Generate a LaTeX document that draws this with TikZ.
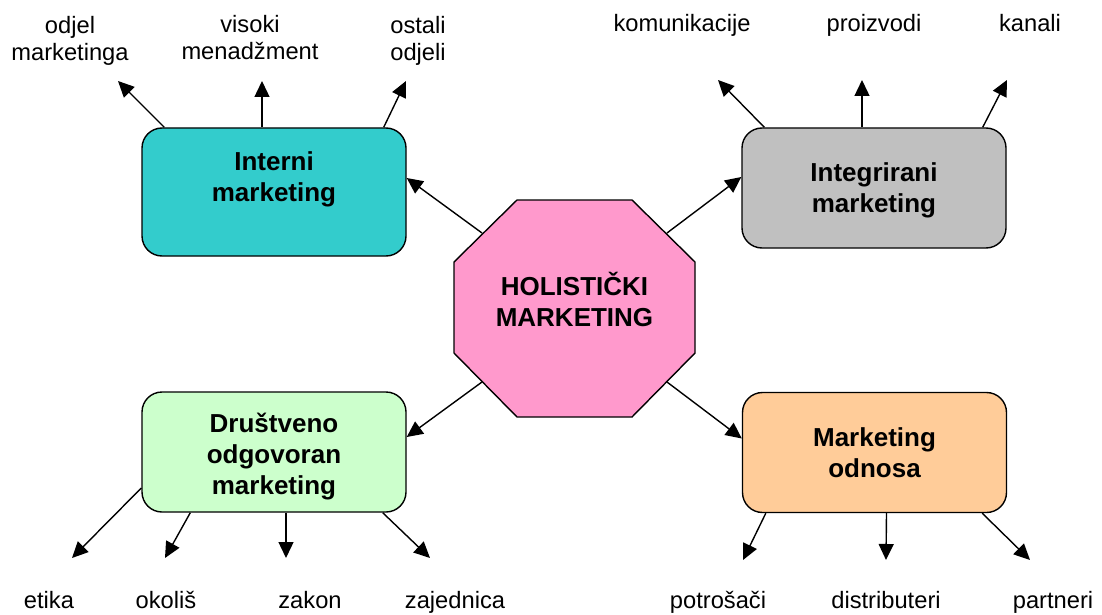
\documentclass[tikz,border=0pt]{standalone}
\usepackage{fontspec}
\setmainfont{Liberation Sans}
\usetikzlibrary{arrows.meta}
\definecolor{tirkiz}{HTML}{33CCCC}
\definecolor{siva}{HTML}{C0C0C0}
\definecolor{zelena}{HTML}{CCFFCC}
\definecolor{narancasta}{HTML}{FFCC99}
\definecolor{roza}{HTML}{FF99CC}
\tikzset{
    >={Triangle[length=16pt,width=15pt]},
    box/.style={draw, line width=1.4pt, rounded corners=20pt, minimum width=264pt,
        minimum height=120pt, align=center, inner sep=0pt,
        font=\fontsize{26}{31}\selectfont\bfseries},
    txt/.style={align=center, inner sep=0pt, font=\fontsize{23.7}{27}\selectfont},
    arr/.style={->, line width=1.4pt}
}

\begin{document}
\begin{tikzpicture}[x=1pt,y=-1pt]
    \useasboundingbox (0,0) rectangle (1102,615);
    % sredisnji osmerokut
        \draw[line width=1.4pt, fill=roza] (517,200) -- (632,200) -- (695,262) -- (695,353)
            -- (632,417) -- (517,417) -- (454,353) -- (454,262) -- cycle;
        \node[align=center, inner sep=0pt, font=\fontsize{26}{31}\selectfont\bfseries] (hol) at (574.5,299.5) {HOLISTIČKI\\MARKETING};
        \coordinate (h1) at (482,233);
        \coordinate (h2) at (667,233);
        \coordinate (h3) at (482,382);
        \coordinate (h4) at (667,382);
    % cetiri podrucja
        \node[box, fill=tirkiz, minimum height=128pt] (int) at (274,192) {Interni\\marketing\\ \mbox{}};
        \node[box, fill=siva] (integ) at (874,188) {\rule{0pt}{24.5pt}Integrirani\\marketing};
        \node[box, fill=zelena] (drus) at (274,452) {\rule{0pt}{27.5pt}Društveno\\odgovoran\\marketing};
        \node[box, fill=narancasta] (odn) at (874.5,452.5) {Marketing\\odnosa};
        \draw[arr] (h1) -- ([yshift=14pt]int.east);
        \draw[arr] (h2) -- ([yshift=11pt]integ.west);
        \draw[arr] (h3) -- ([yshift=15pt]drus.east);
        \draw[arr] (h4) -- ([yshift=14pt]odn.west);
    % natpisi
        \node[txt] (l1) at (70,40.4) {odjel\\marketinga};
        \node[txt] (l2) at (250,37.8) {visoki\\menadžment};
        \node[txt] (l3) at (418,40.4) {ostali\\odjeli};
        \node[txt, anchor=base] (l4) at (682,32) {komunikacije};
        \node[txt, anchor=base] (l5) at (874,32) {proizvodi};
        \node[txt, anchor=base] (l6) at (1030,32) {kanali};
        \node[txt, anchor=base] (l7) at (49,608) {etika};
        \node[txt, anchor=base] (l8) at (166,608) {okoliš};
        \node[txt, anchor=base] (l9) at (310,608) {zakon};
        \node[txt, anchor=base] (l10) at (455,608) {zajednica};
        \node[txt, anchor=base] (l11) at (718,608) {potrošači};
        \node[txt, anchor=base] (l12) at (886,608) {distributeri};
        \node[txt, anchor=base] (l13) at (1053,608) {partneri};
    % vrhovi strelica
        \coordinate (a1) at (118,81);
        \coordinate (a2) at (262,81);
        \coordinate (a3) at (406,81);
        \coordinate (a4) at (718,80);
        \coordinate (a5) at (862,80);
        \coordinate (a6) at (1007,80);
        \coordinate (a7) at (72,558);
        \coordinate (a8) at (165,558);
        \coordinate (a9) at (286,558);
        \coordinate (a10) at (430,558);
        \coordinate (a11) at (743,560);
        \coordinate (a12) at (886,560);
        \coordinate (a13) at (1030,560);
        \draw[arr] ([xshift=23pt]int.north west) -- (a1);
        \draw[arr] ([xshift=-12pt]int.north) -- (a2);
        \draw[arr] ([xshift=-23pt]int.north east) -- (a3);
        \draw[arr] ([xshift=23pt]integ.north west) -- (a4);
        \draw[arr] ([xshift=-12pt]integ.north) -- (a5);
        \draw[arr] ([xshift=-24pt]integ.north east) -- (a6);
        \draw[arr] ([yshift=-36pt]drus.west) -- (a7);
        \draw[arr] ([xshift=49pt]drus.south west) -- (a8);
        \draw[arr] ([xshift=12pt]drus.south) -- (a9);
        \draw[arr] ([xshift=-24pt]drus.south east) -- (a10);
        \draw[arr] ([xshift=24pt]odn.south west) -- (a11);
        \draw[arr] ([xshift=12pt]odn.south) -- (a12);
        \draw[arr] ([xshift=-25pt]odn.south east) -- (a13);
    \end{tikzpicture}
\end{document}
